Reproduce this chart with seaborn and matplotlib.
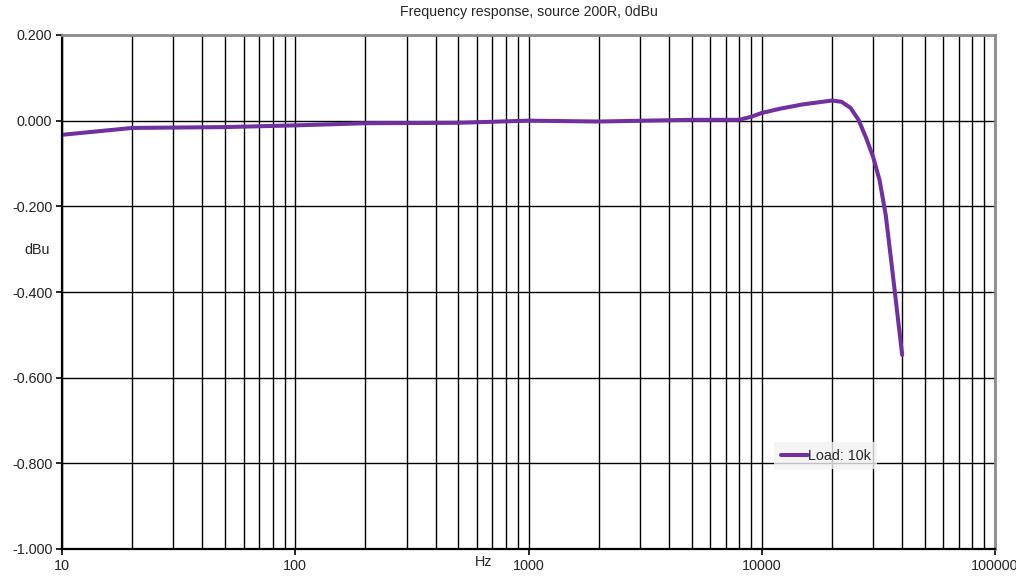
import pandas as pd
import numpy as np
import matplotlib
matplotlib.use("Agg")
import matplotlib.pyplot as plt
import seaborn as sns
from matplotlib.ticker import FixedLocator, NullFormatter

# Values
freq_hz = [10, 20, 50, 100, 200, 500, 1000, 2000, 5000, 8000, 9000,
           10000, 12000, 15000, 20000, 22000, 24000, 26000, 28000,
           30000, 32000, 34000, 36000, 38000, 40000]
level_dbu = [-0.033, -0.017, -0.015, -0.011, -0.006, -0.005, 0.000, -0.002,
             0.002, 0.002, 0.009, 0.018, 0.028, 0.038, 0.047, 0.044, 0.030,
             0.002, -0.040, -0.084, -0.139, -0.220, -0.333, -0.443, -0.547]
series_name = "Load: 10k"
y_ticks = [-1.0, -0.8, -0.6, -0.4, -0.2, 0.0, 0.2]
x_ticks = [10, 100, 1000, 10000, 100000]

df = pd.DataFrame({"Hz": freq_hz, "dBu": level_dbu, "series": series_name})

sns.set_style("white")
plt.rcParams["font.family"] = ["Liberation Sans", "DejaVu Sans"]

fig = plt.figure(figsize=(10.16, 5.78), dpi=100)
ax = fig.add_axes([62 / 1016, 1 - 549 / 578, 933 / 1016, 514 / 578])

sns.lineplot(data=df, x="Hz", y="dBu", hue="series", palette=["#7030A0"],
             linewidth=2.9, ax=ax, sort=True)
ax.lines[0].set_solid_joinstyle("round")

ax.set_xscale("log")
ax.set_xlim(10, 100000)
ax.set_ylim(-1.0, 0.2)

# grid: every minor decade line plus 0.2 dBu steps
minor = [m * 10 ** d for d in range(1, 5) for m in range(2, 10)]
ax.xaxis.set_minor_locator(FixedLocator(minor))
ax.xaxis.set_minor_formatter(NullFormatter())
ax.set_xticks(x_ticks)
ax.set_xticklabels([str(v) for v in x_ticks])
ax.set_yticks(y_ticks)
ax.set_yticklabels([f"{v:.3f}" if v != 0 else "0.000" for v in y_ticks])
ax.grid(True, which="both", axis="x", color="black", linewidth=1.0)
ax.grid(True, which="major", axis="y", color="black", linewidth=1.0)

for s in ["left", "bottom"]:
    ax.spines[s].set_color("black")
    ax.spines[s].set_linewidth(1.6)
for s in ["top", "right"]:
    ax.spines[s].set_color("#8c8c8c")
    ax.spines[s].set_linewidth(2.0)

ax.tick_params(axis="both", which="major", direction="out", length=4,
               width=1.2, color="black", labelsize=10.4, pad=3, left=True,
               bottom=True)
ax.tick_params(axis="x", which="minor", length=0)

ax.set_xlabel("")
ax.set_ylabel("")
fig.text(484 / 1016, 1 - 562 / 578, "Hz", ha="center", va="center", fontsize=10.4)
fig.text(37 / 1016, 1 - 250 / 578, "dBu", ha="center", va="center", fontsize=10.4)
ax.set_title("Frequency response, source 200R, 0dBu", fontsize=10.2, pad=14)

leg = ax.legend(loc="upper left", bbox_to_anchor=(767 / 1016, 1 - 435 / 578),
                bbox_transform=fig.transFigure, frameon=True, fontsize=10.3,
                handlelength=1.9, handletextpad=0.0, borderpad=0.45,
                fancybox=False)
leg.get_frame().set_facecolor("#f2f2f2")
leg.get_frame().set_edgecolor("none")

fig.savefig("out.png", dpi=100)
